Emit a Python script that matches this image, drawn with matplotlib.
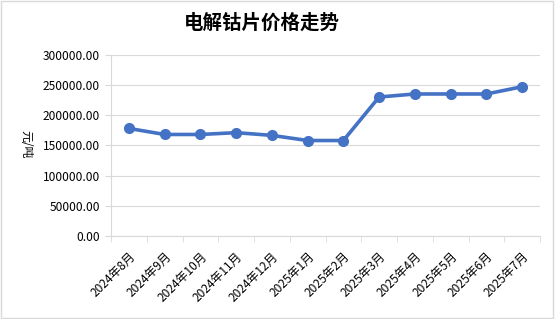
import matplotlib
matplotlib.use("Agg")
import matplotlib.pyplot as plt
from matplotlib.patches import Rectangle

plt.rcParams['font.family'] = ['Noto Sans CJK SC', 'DejaVu Sans']

months = ["2024年8月", "2024年9月", "2024年10月", "2024年11月", "2024年12月",
          "2025年1月", "2025年2月", "2025年3月", "2025年4月", "2025年5月",
          "2025年6月", "2025年7月"]
prices = [178000, 168000, 168000, 171000, 166500, 158000, 158000,
          230000, 235000, 235000, 235000, 247000]
yticks = [0, 50000, 100000, 150000, 200000, 250000, 300000]

fig = plt.figure(figsize=(5.55, 3.19), dpi=100)
ax = fig.add_axes([111/555, 1-236/319, 429/555, (236-54.7)/319])

x = list(range(len(months)))
ax.plot(x, prices, color="#4472C4", linewidth=2.6, marker="o",
        markersize=7, solid_capstyle="round")

ax.set_xlim(-0.5, len(months)-0.5)
ax.set_ylim(0, 300000)
ax.set_yticks(yticks)
ax.set_yticklabels(["%.2f" % v for v in yticks], fontsize=8.6)
ax.grid(axis="y", color="#d9d9d9", linewidth=0.8)
ax.set_axisbelow(True)

ax.set_xticks(x)
ax.set_xticklabels(months, rotation=45, ha="right", va="top",
                   rotation_mode="anchor", fontsize=8.6)
ax.set_xticks([i - 0.5 for i in range(len(months)+1)], minor=True)
ax.tick_params(axis="x", which="major", length=0, pad=10)
ax.tick_params(axis="x", which="minor", length=4, color="#d9d9d9")
ax.tick_params(axis="y", length=4, color="#d9d9d9", pad=4)

for s in ["top", "right"]:
    ax.spines[s].set_visible(False)
for s in ["left", "bottom"]:
    ax.spines[s].set_color("#d9d9d9")

fig.text(26/555, 1-144/319, "元/吨", rotation=270, ha="center", va="center",
         fontsize=8.6)
fig.text(262/555, 1-23/319, "电解钴片价格走势", ha="center", va="center",
         fontsize=14, fontweight="bold")

fig.patches.append(Rectangle((0.002, 0.003), 0.995, 0.993, transform=fig.transFigure,
                             fill=False, edgecolor="#d9d9d9", linewidth=1))

fig.savefig("out.png", dpi=100)
